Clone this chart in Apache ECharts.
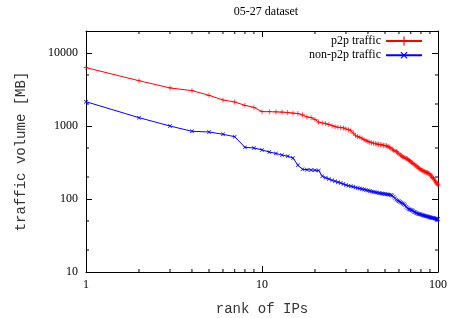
<!DOCTYPE html>
<html>
<head>
<meta charset="utf-8">
<script src="https://cdn.jsdelivr.net/npm/echarts@6/dist/echarts.min.js"></script>
<style>
  html, body { margin: 0; padding: 0; background: #fff; }
  #main { width: 450px; height: 318px; }
</style>
</head>
<body>
<div id="main"></div>
<script>
// rank of IP (1..100)
var ranks = [];
for (var i = 1; i <= 100; i++) ranks.push(i);

// traffic volume [MB]
var p2p = [
  6300, 4170, 3320, 3050, 2630, 2270, 2130, 1920, 1800, 1570,
  1570, 1560, 1550, 1530, 1500, 1480, 1420, 1330, 1300, 1230,
  1130, 1100, 1080, 1050, 1010, 980, 960, 950, 940, 910,
  890, 860, 800, 740, 720, 700, 680, 650, 630, 615,
  600, 590, 580, 575, 565, 560, 555, 550, 545, 540,
  535, 525, 510, 495, 480, 465, 455, 445, 430, 415,
  400, 390, 380, 372, 365, 360, 352, 343, 335, 325,
  316, 308, 300, 292, 285, 278, 270, 263, 258, 252,
  247, 243, 240, 237, 234, 231, 228, 225, 222, 218,
  212, 205, 198, 192, 185, 178, 172, 166, 160, 155
];
var nonP2p = [
  2150, 1300, 1000, 845, 828, 770, 713, 510, 500, 470,
  440, 420, 400, 385, 365, 290, 255, 252, 250, 248,
  245, 205, 195, 188, 180, 175, 170, 165, 160, 155,
  152, 150, 147, 144, 141, 139, 137, 135, 133, 131,
  129, 127, 125, 124, 123, 121, 120, 119, 118, 117,
  116, 115, 114, 113, 112, 107, 102, 98, 95, 93,
  91, 89, 87, 85, 82, 78, 75, 73, 72, 71,
  70, 69, 67, 66, 65, 64, 63, 62.5, 62, 61.5,
  61, 60, 59.5, 59, 58.5, 58, 57.5, 57, 56.5, 56,
  55.8, 55.5, 55, 54.7, 54.4, 54, 53.7, 53.4, 53.2, 53
];

var seriesNames = ['p2p traffic', 'non-p2p traffic'];
var minorXTicks = [2, 3, 4, 5, 6, 7, 8, 9, 20, 30, 40, 50, 60, 70, 80, 90];
var minorYTicks = [20, 50, 200, 500, 2000, 5000];

var X_MIN = 1, X_MAX = 100, Y_MIN = 10, Y_MAX = 20000;
var serif = 'Liberation Serif';
var mono = 'Liberation Mono';

function pairs(xs, ys) {
  return xs.map(function (x, i) { return [x, ys[i]]; });
}

// plain numbers, only at powers of ten
function decadeLabel(v) {
  var e = Math.log(v) / Math.LN10;
  return Math.abs(e - Math.round(e)) < 1e-6 ? String(Math.round(v)) : '';
}

var plus = 'path://M0,2.6H6V3.4H0Z M2.6,0H3.4V6H2.6Z';

// short inward minor ticks, placed through the axes' own log scales
function minorTickSeries(data, dx, dy) {
  return {
    type: 'custom',
    silent: true,
    clip: false,
    data: data,
    renderItem: function (params, api) {
      var p = api.coord([api.value(0), api.value(1)]);
      return {
        type: 'line',
        shape: { x1: p[0], y1: p[1], x2: p[0] + dx, y2: p[1] + dy },
        style: { stroke: '#000', lineWidth: 1 }
      };
    }
  };
}

var chart = echarts.init(document.getElementById('main'));

var option = {
  animation: false,
  title: {
    text: '05-27 dataset',
    left: 261,
    textAlign: 'center',
    top: 1,
    textStyle: { fontFamily: serif, fontSize: 12, fontWeight: 'normal', color: '#000' }
  },
  legend: {
    data: seriesNames,
    orient: 'vertical',
    align: 'right',
    right: 22,
    top: 30,
    itemWidth: 36,
    itemHeight: 11,
    itemGap: 2,
    textStyle: { fontFamily: serif, fontSize: 12, color: '#000' }
  },
  grid: { left: 86, right: 12, top: 31, bottom: 46, outerBoundsMode: 'none' },
  xAxis: [{
    type: 'log',
    logBase: 10,
    min: X_MIN,
    max: X_MAX,
    name: 'rank of IPs',
    nameLocation: 'middle',
    nameGap: 30,
    nameTextStyle: { fontFamily: mono, fontSize: 14, color: '#333' },
    axisLine: { lineStyle: { color: '#000', width: 1 } },
    axisTick: { inside: true, length: 6, lineStyle: { color: '#000' } },
    axisLabel: { fontFamily: serif, fontSize: 12, color: '#000', margin: 7, formatter: decadeLabel },
    splitLine: { show: false }
  }, {
    type: 'log',
    logBase: 10,
    min: X_MIN,
    max: X_MAX,
    position: 'top',
    axisLine: { lineStyle: { color: '#000', width: 1 } },
    axisTick: { inside: true, length: 6, lineStyle: { color: '#000' } },
    axisLabel: { show: false },
    splitLine: { show: false }
  }],
  yAxis: [{
    type: 'log',
    logBase: 10,
    min: Y_MIN,
    max: Y_MAX,
    name: 'traffic volume [MB]',
    nameLocation: 'middle',
    nameGap: 58,
    nameTextStyle: { fontFamily: mono, fontSize: 14, color: '#333' },
    axisLine: { lineStyle: { color: '#000', width: 1 } },
    axisTick: { inside: true, length: 6, lineStyle: { color: '#000' } },
    axisLabel: {
      fontFamily: serif, fontSize: 12, color: '#000', margin: 8,
      showMaxLabel: false, formatter: decadeLabel
    },
    splitLine: { show: false }
  }, {
    type: 'log',
    logBase: 10,
    min: Y_MIN,
    max: Y_MAX,
    position: 'right',
    axisLine: { lineStyle: { color: '#000', width: 1 } },
    axisTick: { inside: true, length: 6, lineStyle: { color: '#000' } },
    axisLabel: { show: false },
    splitLine: { show: false }
  }],
  series: [{
    name: seriesNames[0],
    type: 'line',
    data: pairs(ranks, p2p),
    symbol: plus,
    symbolSize: 5,
    showAllSymbol: true,
    color: '#ff0000',
    lineStyle: { color: '#ff0000', width: 1 },
    itemStyle: { color: '#ff0000' }
  }, {
    name: seriesNames[1],
    type: 'line',
    data: pairs(ranks, nonP2p),
    symbol: plus,
    symbolRotate: 45,
    symbolSize: 5,
    showAllSymbol: true,
    color: '#0000ff',
    lineStyle: { color: '#0000ff', width: 1 },
    itemStyle: { color: '#0000ff' }
  },
  minorTickSeries(minorXTicks.map(function (x) { return [x, Y_MIN]; }), 0, -3),
  minorTickSeries(minorXTicks.map(function (x) { return [x, Y_MAX]; }), 0, 3),
  minorTickSeries(minorYTicks.map(function (y) { return [X_MIN, y]; }), 3, 0),
  minorTickSeries(minorYTicks.map(function (y) { return [X_MAX, y]; }), -3, 0)
  ]
};

chart.setOption(option);
</script>
</body>
</html>
